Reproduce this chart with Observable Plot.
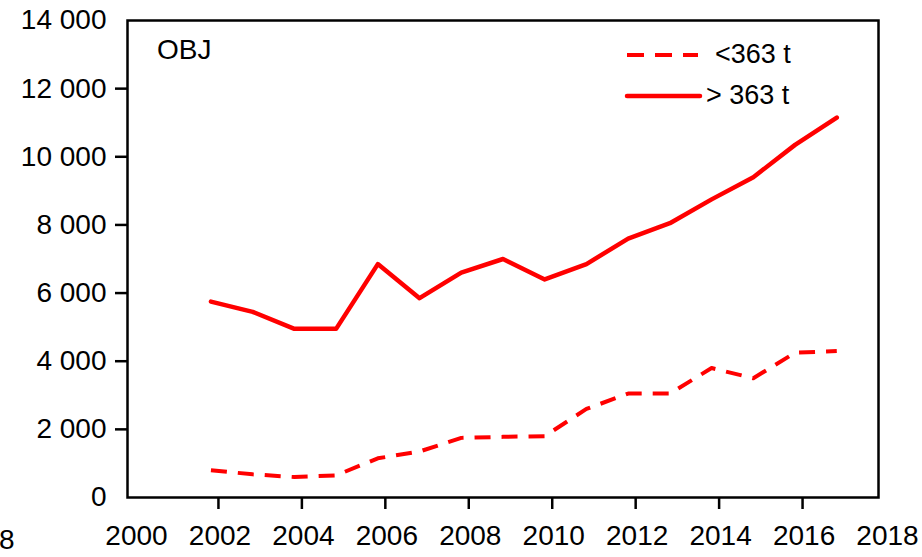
<!DOCTYPE html>
<html>
<head>
<meta charset="utf-8">
<script src="https://cdn.jsdelivr.net/npm/d3@7"></script>
<script src="https://cdn.jsdelivr.net/npm/@observablehq/plot@0.6"></script>
<style>
  html, body { margin: 0; padding: 0; background: white; }
  #wrap { position: relative; width: 922px; height: 557px; font-family: "Liberation Sans", Arial, sans-serif; }
  #overlay { position: absolute; left: 0; top: 0; pointer-events: none; }
</style>
</head>
<body>
<div id="wrap"></div>
<script>
// ---- data ----
const years = [2002, 2003, 2004, 2005, 2006, 2007, 2008, 2009, 2010, 2011, 2012, 2013, 2014, 2015, 2016, 2017];
const below363 = [800, 680, 600, 650, 1150, 1350, 1750, 1780, 1800, 2600, 3050, 3050, 3800, 3500, 4250, 4300];
const above363 = [5750, 5450, 4950, 4950, 6850, 5850, 6600, 7000, 6400, 6850, 7600, 8050, 8750, 9400, 10350, 11150];
const xTickYears = [2002, 2004, 2006, 2008, 2010, 2012, 2014, 2016];
const xLabelYears = [2000, 2002, 2004, 2006, 2008, 2010, 2012, 2014, 2016, 2018];
const yTickValues = [2000, 4000, 6000, 8000, 10000, 12000];
const yLabelValues = [0, 2000, 4000, 6000, 8000, 10000, 12000, 14000];
const seriesNames = ["<363 t", "> 363 t"];
const panelLabel = "OBJ";

const fmt = d3.formatLocale({decimal: ".", thousands: " ", grouping: [3], currency: ["", ""]}).format(",");
const font = '"Liberation Sans", Arial, sans-serif';
const red = "#ff0000";

const chart = Plot.plot({
  width: 922,
  height: 557,
  marginLeft: 127,
  marginRight: 44,
  marginTop: 20,
  marginBottom: 60,
  style: {fontFamily: font, fontSize: "28px", color: "black", background: "white"},
  x: {domain: [2000, 2018], axis: null, label: null},
  y: {domain: [0, 14000], axis: null, label: null},
  marks: [
    Plot.axisX(xTickYears, {tickSize: 12, tickFormat: () => "", dx: 7.5, strokeWidth: 2.5, label: null}),
    Plot.axisX(xLabelYears, {tickSize: 0, tickPadding: 28, tickFormat: d => String(d), dx: 9, fontSize: 28, label: null}),
    Plot.axisY(yTickValues, {tickSize: 12, tickFormat: () => "", strokeWidth: 2.5, label: null}),
    Plot.axisY(yLabelValues, {tickSize: 0, tickPadding: 21, tickFormat: fmt, fontSize: 28, label: null}),
    Plot.frame({stroke: "black", strokeWidth: 2.5}),
    Plot.line(years, {x: d => d, y: below363, stroke: red, strokeWidth: 4, strokeDasharray: "16,11", strokeLinecap: "butt"}),
    Plot.line(years, {x: d => d, y: above363, stroke: red, strokeWidth: 4.5, strokeLinejoin: "round"})
  ]
});
document.getElementById("wrap").appendChild(chart);

// ---- legend & annotations overlay ----
const ov = d3.select("#wrap").append("svg")
  .attr("id", "overlay").attr("width", 922).attr("height", 557)
  .style("font-family", font);

ov.append("text").attr("x", 157).attr("y", 59).attr("font-size", 28).attr("fill", "black").text(panelLabel);

ov.append("line").attr("x1", 627).attr("x2", 698).attr("y1", 55).attr("y2", 55)
  .attr("stroke", red).attr("stroke-width", 4).attr("stroke-dasharray", "17,11");
ov.append("text").attr("x", 715).attr("y", 63).attr("font-size", 27).attr("fill", "black").text(seriesNames[0]);

ov.append("line").attr("x1", 627).attr("x2", 700).attr("y1", 96).attr("y2", 96)
  .attr("stroke", red).attr("stroke-width", 4.5).attr("stroke-linecap", "round");
ov.append("text").attr("x", 706).attr("y", 104).attr("font-size", 27).attr("fill", "black").text(seriesNames[1]);

ov.append("text").attr("x", -1).attr("y", 549).attr("font-size", 28).attr("fill", "black").text("8");
</script>
</body>
</html>
